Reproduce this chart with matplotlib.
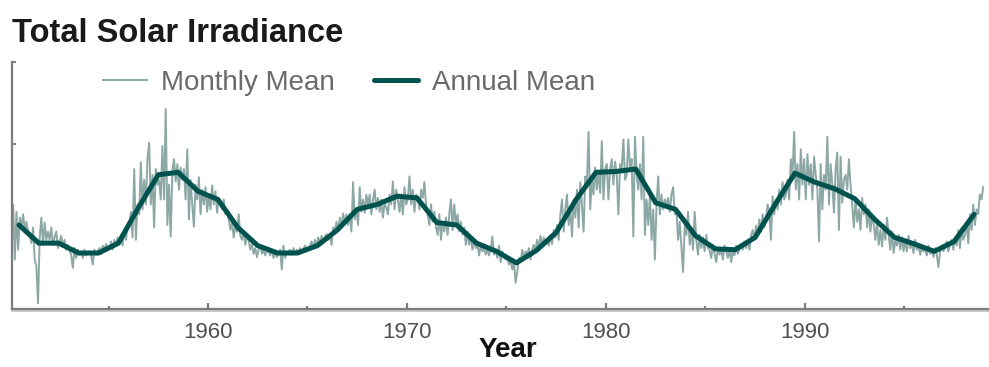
import numpy as np
import matplotlib
matplotlib.use("Agg")
import matplotlib.pyplot as plt
import matplotlib.transforms as mtransforms

# Total solar irradiance (W/m^2), monthly means, one row of 12 per year
monthly_1950s = [
    [1366.15, 1365.90, 1366.27, 1365.60, 1366.18, 1365.72, 1366.11, 1365.99, 1366.15, 1365.96, 1366.06, 1365.94],
    [1365.90, 1365.80, 1365.99, 1365.60, 1365.52, 1365.07, 1365.87, 1366.11, 1365.78, 1366.05, 1365.84, 1365.94],
    [1365.84, 1365.99, 1365.78, 1365.87, 1365.94, 1365.74, 1365.82, 1365.89, 1365.76, 1365.84, 1365.72, 1365.78],
    [1365.72, 1365.65, 1365.50, 1365.74, 1365.62, 1365.72, 1365.66, 1365.70, 1365.62, 1365.72, 1365.65, 1365.68],
    [1365.70, 1365.65, 1365.54, 1365.72, 1365.66, 1365.70, 1365.74, 1365.67, 1365.77, 1365.72, 1365.79, 1365.74],
    [1365.74, 1365.82, 1365.72, 1365.84, 1365.77, 1365.87, 1365.79, 1365.90, 1365.77, 1365.96, 1365.84, 1365.99],
    [1366.02, 1366.18, 1365.87, 1366.70, 1365.84, 1366.27, 1366.15, 1366.78, 1366.21, 1366.57, 1366.27, 1366.82],
    [1367.02, 1366.27, 1366.63, 1365.99, 1366.70, 1366.51, 1366.57, 1366.33, 1366.98, 1366.33, 1367.43, 1366.02],
    [1366.51, 1365.88, 1366.67, 1366.82, 1366.55, 1366.76, 1366.45, 1366.72, 1366.57, 1366.70, 1366.33, 1366.94],
    [1366.09, 1366.57, 1366.27, 1366.00, 1366.51, 1366.33, 1366.60, 1366.15, 1366.45, 1366.27, 1366.48, 1366.18],
]
monthly_1960s = [
    [1366.39, 1366.21, 1366.50, 1366.27, 1366.43, 1366.17, 1366.35, 1366.27, 1366.21, 1366.33, 1366.15, 1366.18],
    [1366.09, 1365.96, 1366.06, 1365.87, 1366.01, 1365.94, 1366.15, 1365.89, 1365.84, 1365.93, 1365.78, 1365.87],
    [1365.84, 1365.72, 1365.79, 1365.67, 1365.74, 1365.63, 1365.72, 1365.77, 1365.67, 1365.72, 1365.65, 1365.70],
    [1365.70, 1365.65, 1365.72, 1365.62, 1365.70, 1365.63, 1365.67, 1365.72, 1365.48, 1365.77, 1365.62, 1365.67],
    [1365.70, 1365.72, 1365.66, 1365.74, 1365.67, 1365.72, 1365.68, 1365.74, 1365.70, 1365.73, 1365.77, 1365.72],
    [1365.72, 1365.77, 1365.82, 1365.74, 1365.84, 1365.77, 1365.87, 1365.79, 1365.89, 1365.82, 1365.87, 1365.91],
    [1365.84, 1365.90, 1365.78, 1365.99, 1365.94, 1366.06, 1365.96, 1366.11, 1365.99, 1366.16, 1366.04, 1366.15],
    [1366.02, 1366.15, 1365.94, 1366.54, 1366.09, 1366.21, 1366.02, 1366.48, 1366.18, 1366.33, 1366.17, 1366.39],
    [1366.27, 1366.39, 1366.15, 1366.33, 1366.45, 1366.21, 1366.35, 1366.18, 1366.33, 1366.11, 1366.29, 1366.23],
    [1366.15, 1366.39, 1366.27, 1366.55, 1366.21, 1366.45, 1366.33, 1366.18, 1366.39, 1366.15, 1366.48, 1366.27],
]
monthly_1970s = [
    [1366.33, 1366.61, 1366.27, 1366.45, 1366.18, 1366.39, 1366.33, 1366.21, 1366.45, 1366.35, 1366.54, 1366.27],
    [1366.15, 1366.02, 1366.27, 1366.06, 1366.18, 1365.99, 1365.90, 1366.15, 1365.84, 1366.06, 1365.94, 1366.11],
    [1365.90, 1366.15, 1366.33, 1365.96, 1366.27, 1366.02, 1366.15, 1365.94, 1366.06, 1365.90, 1365.99, 1365.78],
    [1365.94, 1365.78, 1365.87, 1365.72, 1365.84, 1365.74, 1365.79, 1365.65, 1365.77, 1365.70, 1365.74, 1365.66],
    [1365.72, 1365.65, 1365.74, 1365.88, 1365.66, 1365.72, 1365.62, 1365.77, 1365.57, 1365.70, 1365.65, 1365.60],
    [1365.62, 1365.54, 1365.60, 1365.48, 1365.57, 1365.32, 1365.45, 1365.62, 1365.57, 1365.72, 1365.62, 1365.70],
    [1365.65, 1365.74, 1365.60, 1365.72, 1365.78, 1365.70, 1365.84, 1365.74, 1365.89, 1365.77, 1365.87, 1365.79],
    [1365.84, 1365.77, 1365.90, 1365.79, 1365.96, 1365.87, 1366.02, 1365.84, 1366.15, 1366.33, 1365.94, 1366.21],
    [1366.39, 1366.02, 1366.21, 1365.88, 1366.33, 1366.11, 1366.45, 1365.99, 1366.54, 1366.27, 1365.94, 1366.61],
    [1366.51, 1367.15, 1366.21, 1366.57, 1366.39, 1366.72, 1366.45, 1366.67, 1366.41, 1367.04, 1366.33, 1366.70],
]
monthly_1980s = [
    [1366.76, 1366.33, 1366.70, 1366.82, 1366.51, 1366.79, 1366.63, 1366.15, 1366.76, 1366.70, 1367.06, 1366.57],
    [1366.63, 1367.06, 1366.70, 1366.82, 1365.88, 1367.09, 1366.63, 1366.45, 1366.76, 1366.33, 1367.09, 1365.90],
    [1366.33, 1366.02, 1366.39, 1365.84, 1366.21, 1365.60, 1366.27, 1366.61, 1366.15, 1366.39, 1366.21, 1366.33],
    [1366.27, 1366.35, 1366.18, 1366.39, 1366.48, 1366.15, 1366.21, 1365.84, 1366.06, 1365.76, 1365.45, 1366.02],
    [1365.90, 1366.18, 1365.78, 1365.96, 1365.72, 1366.18, 1365.84, 1365.66, 1365.90, 1365.74, 1365.87, 1365.70],
    [1365.90, 1365.74, 1365.72, 1365.62, 1365.78, 1365.67, 1365.57, 1365.74, 1365.66, 1365.72, 1365.60, 1365.77],
    [1365.70, 1365.62, 1365.74, 1365.57, 1365.72, 1365.65, 1365.77, 1365.67, 1365.72, 1365.79, 1365.72, 1365.82],
    [1365.74, 1365.84, 1365.72, 1365.89, 1365.96, 1365.84, 1366.01, 1365.90, 1366.09, 1365.94, 1366.15, 1365.99],
    [1366.09, 1366.27, 1366.18, 1365.84, 1366.37, 1366.15, 1366.33, 1366.21, 1366.45, 1366.27, 1366.54, 1366.33],
    [1366.39, 1366.57, 1366.33, 1366.82, 1366.63, 1367.15, 1366.45, 1366.76, 1366.33, 1366.94, 1366.51, 1366.82],
]
monthly_1990s = [
    [1366.33, 1366.88, 1366.51, 1366.76, 1366.33, 1366.85, 1366.63, 1366.45, 1365.82, 1366.76, 1366.21, 1366.63],
    [1366.45, 1367.09, 1366.27, 1366.76, 1366.51, 1366.17, 1366.70, 1366.90, 1365.96, 1366.85, 1366.29, 1366.57],
    [1366.63, 1366.45, 1366.82, 1366.51, 1366.27, 1365.99, 1366.33, 1366.06, 1366.21, 1365.96, 1366.35, 1366.15],
    [1366.27, 1365.99, 1366.21, 1365.94, 1366.15, 1366.02, 1365.84, 1366.06, 1365.78, 1365.96, 1365.76, 1366.02],
    [1365.84, 1366.11, 1365.90, 1365.72, 1365.94, 1365.68, 1365.84, 1365.77, 1365.90, 1365.72, 1365.87, 1365.70],
    [1365.84, 1365.70, 1365.89, 1365.74, 1365.78, 1365.68, 1365.84, 1365.72, 1365.77, 1365.66, 1365.74, 1365.70],
    [1365.72, 1365.65, 1365.77, 1365.67, 1365.72, 1365.63, 1365.74, 1365.66, 1365.51, 1365.70, 1365.77, 1365.70],
    [1365.74, 1365.82, 1365.70, 1365.78, 1365.84, 1365.72, 1365.87, 1365.77, 1365.96, 1365.74, 1365.99, 1365.84],
    [1365.90, 1366.06, 1365.80, 1366.15, 1365.96, 1366.27, 1366.02, 1366.21, 1366.15, 1366.39, 1366.33, 1366.48],
]

years = list(range(1950, 1999))
annual = [1366.02, 1365.80, 1365.80, 1365.68, 1365.68, 1365.80, 1366.23, 1366.63, 1366.66, 1366.43,
          1366.33, 1365.99, 1365.77, 1365.68, 1365.68, 1365.77, 1365.96, 1366.21, 1366.27, 1366.37,
          1366.35, 1366.05, 1366.02, 1365.80, 1365.70, 1365.56, 1365.71, 1365.93, 1366.33, 1366.66,
          1366.67, 1366.70, 1366.29, 1366.21, 1365.89, 1365.73, 1365.72, 1365.87, 1366.27, 1366.65,
          1366.54, 1366.46, 1366.34, 1366.09, 1365.87, 1365.79, 1365.70, 1365.82, 1366.15]

major_years = [1960, 1970, 1980, 1990]
minor_years = [1955, 1965, 1975, 1985, 1995]

monthly = np.concatenate([np.ravel(d) for d in
                          (monthly_1950s, monthly_1960s, monthly_1970s, monthly_1980s, monthly_1990s)])
t_month = years[0] + (np.arange(len(monthly)) + 0.5) / 12.0
t_year = np.array(years) + 0.5

DARK = "#00524e"
LIGHT = "#8ca8a5"
AXIS = "#7c7c7c"

fig = plt.figure(figsize=(9.89, 3.67), dpi=100)
ax = fig.add_axes([12 / 989, 58 / 367, 977 / 989, 247 / 367])

ax.plot(t_month, monthly, color=LIGHT, lw=1.4, label="Monthly Mean", zorder=2)
ax.plot(t_year, annual, color=DARK, lw=3.6, label="Annual Mean", zorder=3,
        solid_joinstyle="round", solid_capstyle="round")

ax.set_xlim(1950.15, 1999.25)
ax.set_ylim(1365.0, 1368.0)

for s in ("top", "right"):
    ax.spines[s].set_visible(False)
for s in ("left", "bottom"):
    ax.spines[s].set_color(AXIS)
    ax.spines[s].set_linewidth(1.6)

# soft light rule under the baseline
shadow = mtransforms.offset_copy(ax.transAxes, fig=fig, x=0, y=-2, units="dots")
ax.plot([0, 1], [0, 0], transform=shadow, color="#c8c8c8", lw=1.4, clip_on=False)

ax.set_xticks(major_years)
ax.set_xticks(minor_years, minor=True)
ax.set_yticks([1366, 1367, 1368])
ax.set_yticklabels([])
ax.tick_params(axis="x", which="major", direction="in", length=4, width=1.6,
               color=AXIS, labelsize=16, labelcolor="#505050", pad=9)
ax.tick_params(axis="x", which="minor", direction="in", length=2, width=1.6, color=AXIS)
ax.tick_params(axis="y", direction="in", length=3, width=1.4, color=AXIS)

for lab in ax.get_xticklabels():
    lab.set_family("Liberation Sans")

ax.set_xlabel("Year", fontsize=20, fontweight="bold", family="Liberation Sans",
              color="#111111", labelpad=1)
ax.xaxis.set_label_coords(0.508, -0.112)

fig.text(12 / 989, 1 - 42 / 367, "Total Solar Irradiance", fontsize=23.5,
         fontweight="bold", family="Liberation Sans", color="#1a1a1a", va="baseline")

leg = ax.legend(loc="center left", bbox_to_anchor=(0.093, 0.915), ncol=2, frameon=False,
                handlelength=1.6, handletextpad=0.5, columnspacing=1.4,
                borderpad=0, borderaxespad=0,
                prop={"family": "Liberation Sans", "size": 20})
for txt in leg.get_texts():
    txt.set_color("#6a6a6a")

fig.savefig("out.png", dpi=100)
